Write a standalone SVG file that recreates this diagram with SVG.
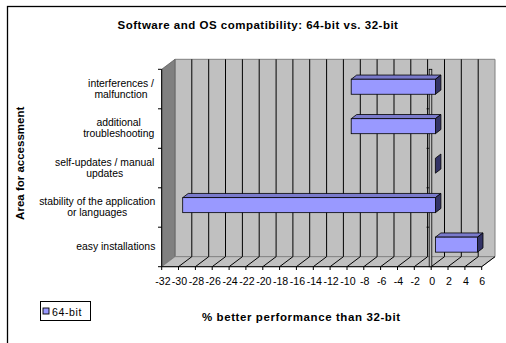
<svg xmlns="http://www.w3.org/2000/svg" width="506" height="343" viewBox="0 0 506 343">
<style>
text{font-family:"Liberation Sans",Arial,sans-serif;fill:#000}
.t{font-size:11.5px;font-weight:bold}
.c{font-size:10.4px;text-anchor:middle}
.v{font-size:10.6px;text-anchor:middle}
.g{stroke:#000;stroke-width:1;fill:none}
.bf{fill:#9999ff;stroke:#000;stroke-width:.8}
.bt{fill:#7a7acc;stroke:#000;stroke-width:.8}
.bs{fill:#333366;stroke:#000;stroke-width:.8}
</style>
<rect x="7.5" y="6.5" width="520" height="360" fill="#fff" stroke="#000" stroke-width="1.3"/>
<g id="title"><text class="t" x="258" y="29" text-anchor="middle" letter-spacing="0.5">Software and OS compatibility: 64-bit vs. 32-bit</text></g>
<g id="plot">
<polygon points="175,59.3 495,59.3 495,256.7 175,256.7" fill="#c0c0c0" stroke="#808080" stroke-width="1"/>
<polygon points="161.7,69.3 175,59.3 175,256.7 161.7,266.7" fill="#808080" stroke="#606060" stroke-width=".8"/>
<polygon points="161.7,266.7 175,256.7 495,256.7 481.7,266.7" fill="#c0c0c0" stroke="#808080" stroke-width=".8"/>
<g class="g">
<path d="M191.8 59.3V256.7M208.7 59.3V256.7M225.5 59.3V256.7M242.4 59.3V256.7M259.2 59.3V256.7M276.1 59.3V256.7M292.9 59.3V256.7M309.7 59.3V256.7M326.6 59.3V256.7M343.4 59.3V256.7M360.3 59.3V256.7M377.1 59.3V256.7M394 59.3V256.7M410.8 59.3V256.7M427.6 59.3V256.7M444.5 59.3V256.7M461.3 59.3V256.7M478.2 59.3V256.7"/>
<path d="M178.5 266.7L191.8 256.7M195.4 266.7L208.7 256.7M212.2 266.7L225.5 256.7M229.1 266.7L242.4 256.7M245.9 266.7L259.2 256.7M262.8 266.7L276.1 256.7M279.6 266.7L292.9 256.7M296.4 266.7L309.7 256.7M313.3 266.7L326.6 256.7M330.1 266.7L343.4 256.7M347 266.7L360.3 256.7M363.8 266.7L377.1 256.7M380.6 266.7L394 256.7M397.5 266.7L410.8 256.7M414.3 266.7L427.6 256.7M431.2 266.7L444.5 256.7M448 266.7L461.3 256.7M464.9 266.7L478.2 256.7M481.7 266.7L495 256.7"/>
<path d="M161.7 69.3V266.7H481.7"/>
<path d="M158 69.3H161.7M158 108.8H161.7M158 148.3H161.7M158 187.8H161.7M158 227.2H161.7M158 266.7H161.7"/>
<path d="M161.7 266.7V270M178.5 266.7V270M195.4 266.7V270M212.2 266.7V270M229.1 266.7V270M245.9 266.7V270M262.8 266.7V270M279.6 266.7V270M296.4 266.7V270M313.3 266.7V270M330.1 266.7V270M347 266.7V270M363.8 266.7V270M380.6 266.7V270M397.5 266.7V270M414.3 266.7V270M431.2 266.7V270M448 266.7V270M464.9 266.7V270M481.7 266.7V270"/>
</g>
<rect x="429.2" y="69.3" width="2.6" height="197.4" fill="#c0c0c0" stroke="#000" stroke-width=".8"/>
<path d="M426.5 108.8H429.2M426.5 148.3H429.2M426.5 187.8H429.2M426.5 227.2H429.2" stroke="#000" stroke-width=".8"/>
</g>
<g id="bar-interferences">
<polygon class="bt" points="351.2,79.25 356.7,75.05 440.9,75.05 435.4,79.25"/>
<polygon class="bs" points="435.4,79.25 440.9,75.05 440.9,90.05 435.4,94.25"/>
<rect class="bf" x="351.2" y="79.25" width="84.2" height="15"/>
</g>
<g id="bar-troubleshooting">
<polygon class="bt" points="351.2,118.7 356.7,114.5 440.9,114.5 435.4,118.7"/>
<polygon class="bs" points="435.4,118.7 440.9,114.5 440.9,129.5 435.4,133.7"/>
<rect class="bf" x="351.2" y="118.7" width="84.2" height="15"/>
</g>
<g id="bar-selfupdates">
<polygon class="bs" points="435.4,158.2 440.9,154 440.9,169 435.4,173.2"/>
</g>
<g id="bar-stability">
<polygon class="bt" points="182.7,197.65 188.2,193.45 440.9,193.45 435.4,197.65"/>
<polygon class="bs" points="435.4,197.65 440.9,193.45 440.9,208.45 435.4,212.65"/>
<rect class="bf" x="182.7" y="197.65" width="252.7" height="15"/>
</g>
<g id="bar-easy">
<polygon class="bt" points="435.4,237.15 440.9,232.95 483,232.95 477.5,237.15"/>
<polygon class="bs" points="477.5,237.15 483,232.95 483,247.95 477.5,252.15"/>
<rect class="bf" x="435.4" y="237.15" width="42.1" height="15"/>
</g>
<g id="category-labels">
<text class="c" x="121" y="86.5">interferences /</text>
<text class="c" x="121" y="97.5">malfunction</text>
<text class="c" x="118.7" y="126">additional</text>
<text class="c" x="118.7" y="137">troubleshooting</text>
<text class="c" x="104.7" y="165.5">self-updates / manual</text>
<text class="c" x="104.7" y="176.5">updates</text>
<text class="c" x="97.2" y="205">stability of the application</text>
<text class="c" x="97.2" y="216">or languages</text>
<text class="c" x="115.8" y="250">easy installations</text>
</g>
<g id="value-labels">
<text class="v" x="163" y="285">-32</text><text class="v" x="179.5" y="285">-30</text><text class="v" x="196.4" y="285">-28</text><text class="v" x="213.2" y="285">-26</text><text class="v" x="230.1" y="285">-24</text><text class="v" x="246.9" y="285">-22</text><text class="v" x="263.8" y="285">-20</text><text class="v" x="280.6" y="285">-18</text><text class="v" x="297.4" y="285">-16</text><text class="v" x="314.3" y="285">-14</text><text class="v" x="331.1" y="285">-12</text><text class="v" x="348" y="285">-10</text><text class="v" x="364.8" y="285">-8</text><text class="v" x="381.6" y="285">-6</text><text class="v" x="398.5" y="285">-4</text><text class="v" x="415.3" y="285">-2</text><text class="v" x="432.2" y="285">0</text><text class="v" x="449" y="285">2</text><text class="v" x="465.9" y="285">4</text><text class="v" x="482.2" y="285">6</text>
</g>
<g id="axis-titles">
<text class="t" x="301.3" y="320.7" text-anchor="middle" letter-spacing="0.6">% better performance than 32-bit</text>
<text class="t" transform="rotate(-90)" x="-163.3" y="23.5" text-anchor="middle">Area for accessment</text>
</g>
<g id="legend">
<rect x="40.5" y="301.5" width="50" height="19" fill="#fff" stroke="#000" stroke-width="1"/>
<rect x="43" y="308" width="6" height="6" fill="#9999ff" stroke="#000" stroke-width=".9"/>
<text x="52" y="315.5" font-size="10.6" letter-spacing="0.6">64-bit</text>
</g>
</svg>
